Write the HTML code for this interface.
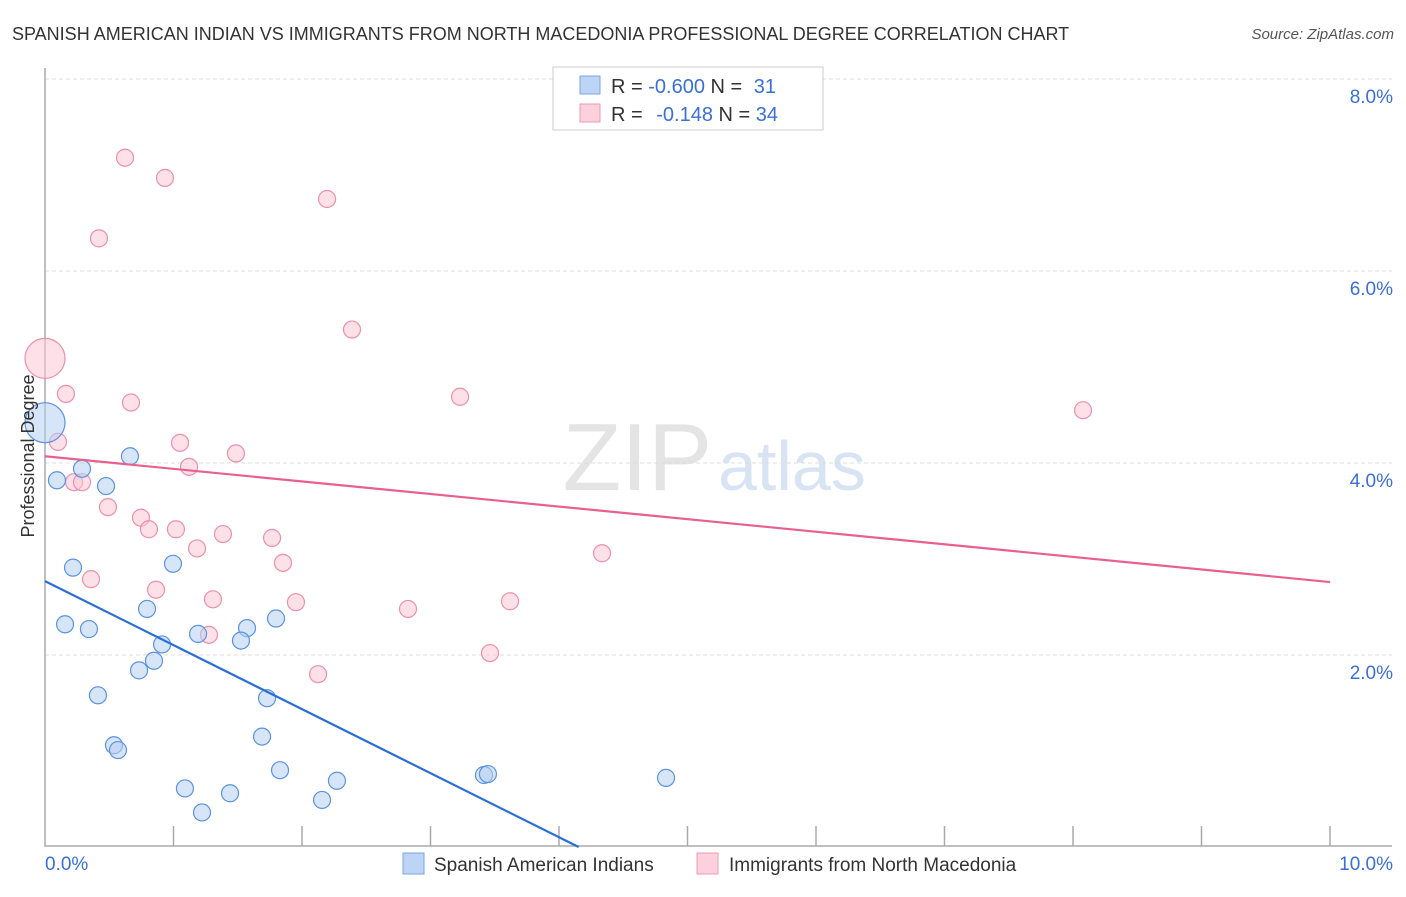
<!DOCTYPE html>
<html><head><meta charset="utf-8"><style>
body{margin:0;background:#fff;font-family:"Liberation Sans",sans-serif}
svg text{font-family:"Liberation Sans",sans-serif}
</style></head><body>
<svg id="chart" width="1406" height="892">
<text x="12" y="40" font-size="18" fill="#333">SPANISH AMERICAN INDIAN VS IMMIGRANTS FROM NORTH MACEDONIA PROFESSIONAL DEGREE CORRELATION CHART</text>
<text x="1394" y="39" font-size="15" fill="#555" font-style="italic" text-anchor="end">Source: ZipAtlas.com</text>
<text x="712" y="490" font-size="96" fill="#e4e4e4" text-anchor="end" font-family="Liberation Serif">ZIP</text>
<text x="718" y="490" font-size="70" fill="#d8e4f4">atlas</text>
<g id="grid"></g><g id="axes"></g><g id="pts"></g><g id="lines"></g>
<text transform="translate(34,456) rotate(-90)" font-size="18" fill="#333" text-anchor="middle">Professional Degree</text>
<g>
<rect x="553" y="67" width="270" height="63" fill="#fff" stroke="#ccc"/>
<rect x="580" y="76" width="20" height="18" fill="#bcd4f5" stroke="#7aa6e6"/>
<rect x="580" y="104" width="20" height="18" fill="#fcd0dc" stroke="#ee9ab4"/>
<text x="611" y="93" font-size="20" fill="#333">R = <tspan fill="#3a6fd8">-0.600</tspan>   N = <tspan fill="#3a6fd8" dx="6">31</tspan></text>
<text x="611" y="121" font-size="20" fill="#333">R = <tspan fill="#3a6fd8" dx="8">-0.148</tspan>   N = <tspan fill="#3a6fd8">34</tspan></text>
</g>
<g>
<rect x="403" y="853" width="21" height="21" fill="#bcd4f5" stroke="#7aa6e6"/>
<text x="434" y="871" font-size="19" fill="#333">Spanish American Indians</text>
<rect x="697" y="853" width="21" height="21" fill="#fcd0dc" stroke="#ee9ab4"/>
<text x="729" y="871" font-size="19" fill="#333">Immigrants from North Macedonia</text>
</g>
</svg>
<script>
const blueX=[0,0.093,0.288,0.475,0.661,0.218,0.156,0.342,0.794,0.996,0.911,0.848,0.732,0.412,0.537,0.568,1.191,1.572,1.525,1.798,1.728,1.689,1.829,1.089,1.222,1.440,2.156,2.272,3.416,3.447,4.833];
const blueY=[4.42,3.82,3.94,3.76,4.07,2.91,2.32,2.27,2.48,2.95,2.11,1.94,1.84,1.58,1.06,1.01,2.22,2.28,2.15,2.38,1.55,1.15,0.80,0.61,0.36,0.56,0.49,0.69,0.75,0.76,0.72];
const pinkX=[0,0.623,0.934,0.420,2.195,2.389,0.163,0.669,3.230,8.078,0.101,1.051,1.486,1.121,0.226,0.288,0.490,0.747,0.809,1.019,1.385,1.183,1.767,1.852,0.358,0.864,1.307,1.953,2.825,3.619,4.335,1.276,3.463,2.125];
const pinkY=[5.09,7.18,6.97,6.34,6.75,5.39,4.72,4.63,4.69,4.55,4.22,4.21,4.10,3.96,3.80,3.80,3.54,3.43,3.31,3.31,3.26,3.11,3.22,2.96,2.79,2.68,2.58,2.55,2.48,2.56,3.06,2.21,2.02,1.80];
const blueTrend=[2.77,-0.667];
const pinkTrend=[4.07,-0.131];
const yTicks=[2,4,6,8];
const xTickLabels=["0.0%","10.0%"];
const NS="http://www.w3.org/2000/svg";
const X=v=>45+v*128.5, Y=v=>847-v*96;
function mk(tag,parent,attrs){const e=document.createElementNS(NS,tag);for(const k in attrs)e.setAttribute(k,attrs[k]);parent.appendChild(e);return e;}
const grid=document.getElementById('grid'),axes=document.getElementById('axes'),pts=document.getElementById('pts'),lines=document.getElementById('lines');
yTicks.forEach(t=>{
 const l=mk('line',grid,{x1:45,x2:1392,y1:Y(t),y2:Y(t),stroke:'#ddd','stroke-dasharray':'4,3'});
 
 
 const tx=mk('text',grid,{x:1393,y:Y(t)+24,'font-size':19,fill:'#3a6fd8','text-anchor':'end'});
 tx.textContent=t.toFixed(1)+'%';
 
 
});
const ax=mk('path',axes,{d:'M45,68V846H1392',fill:'none',stroke:'#aaa','stroke-width':1.5});


for(let i=1;i<=10;i++){const t=mk('line',axes,{x1:X(i),x2:X(i),y1:826,y2:846,stroke:'#aaa','stroke-width':1.5});
 
 }
[[0,'start',45],[1,'end',1393]].forEach(([i,a,x])=>{const t=mk('text',axes,{x:x,y:870,'font-size':19,fill:'#3a6fd8','text-anchor':a});t.textContent=xTickLabels[i];
 
 });
function dots(xs,ys,fill,stroke,name){xs.forEach((x,i)=>{const r=i===0?20:8.5;
 const c=mk('circle',pts,{cx:X(x),cy:Y(ys[i]),r:r,fill:fill,'fill-opacity':0.55,stroke:stroke,'stroke-width':1.2});
 
 });}
dots(pinkX,pinkY,'#fbc6d6','#ec90ad','macedonia-point');
dots(blueX,blueY,'#b6d0f3','#5b93e0','spanish-point');
const pl=mk('line',lines,{x1:X(0),y1:Y(pinkTrend[0]),x2:X(10),y2:Y(pinkTrend[0]+pinkTrend[1]*10),stroke:'#e8608f','stroke-width':2.2});


const x0=-blueTrend[0]/blueTrend[1];
const bl=mk('line',lines,{x1:X(0),y1:Y(blueTrend[0]),x2:X(x0),y2:Y(0),stroke:'#2a6fd6','stroke-width':2.2});


</script>
</body></html>
